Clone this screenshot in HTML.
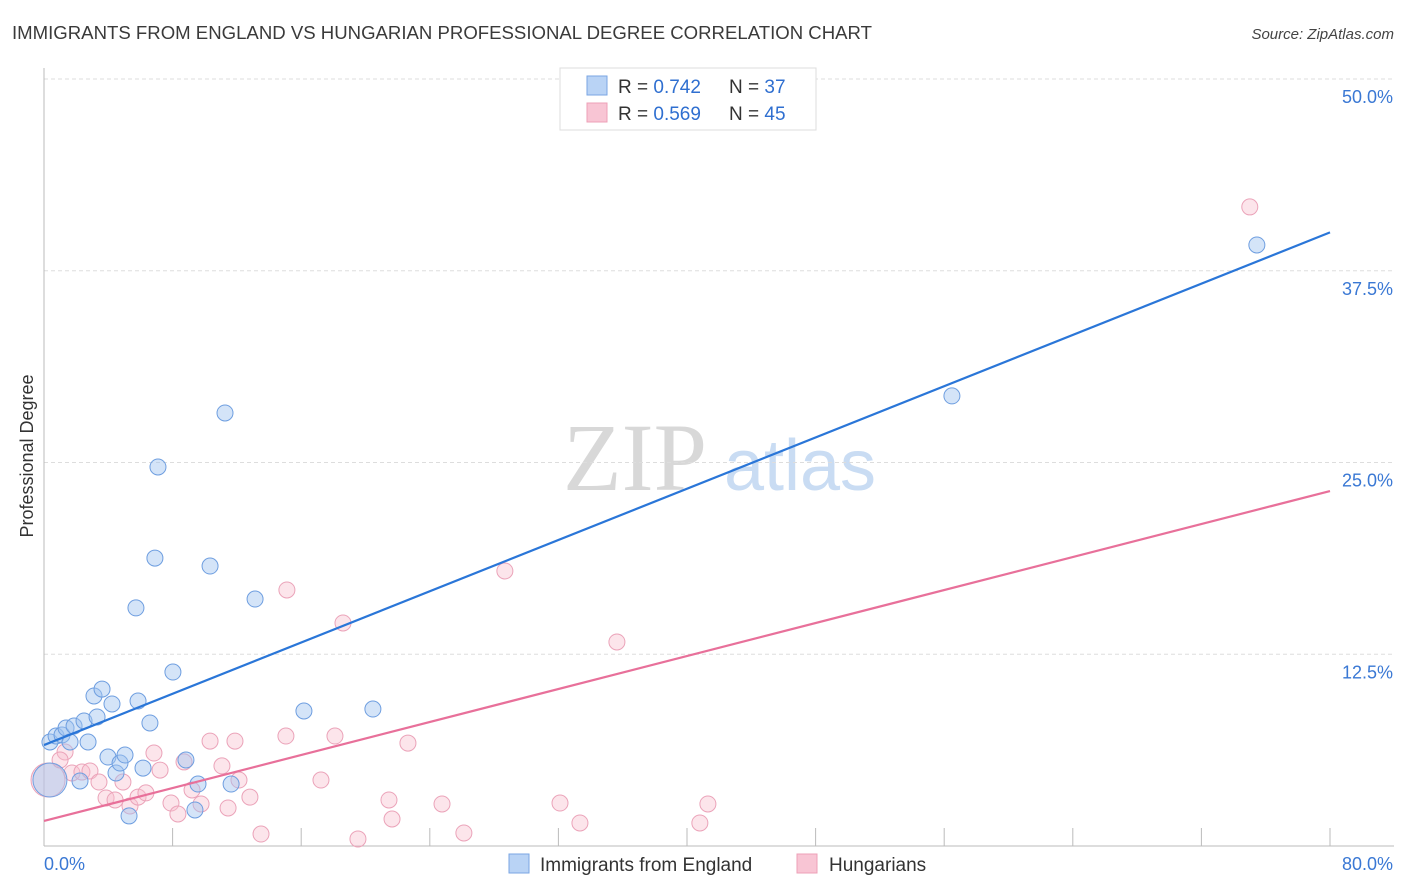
<!DOCTYPE html>
<html><head><meta charset="utf-8">
<style>
body{margin:0;background:#fff;font-family:"Liberation Sans",sans-serif;}
svg{display:block}
</style></head>
<body>
<svg id="chart" width="1406" height="892" viewBox="0 0 1406 892">
<text x="12" y="39" font-size="18" fill="#3a3a3a" textLength="860" lengthAdjust="spacingAndGlyphs">IMMIGRANTS FROM ENGLAND VS HUNGARIAN PROFESSIONAL DEGREE CORRELATION CHART</text>
<text x="1394" y="39" font-size="15" fill="#444" font-style="italic" text-anchor="end">Source: ZipAtlas.com</text>
<text x="0" y="0" transform="translate(33,456) rotate(-90)" font-size="18" fill="#333" text-anchor="middle">Professional Degree</text>
<g>
<text x="635" y="490" font-size="96" fill="#d8d8d8" font-family="Liberation Serif,serif" text-anchor="middle">ZIP</text>
<text x="800" y="490" font-size="72" fill="#c9dcf3" text-anchor="middle">atlas</text>
</g>
<g id="grid"></g>
<g id="axes"></g>
<g id="marks"></g>
<g>
<rect x="560" y="68" width="256" height="62" fill="#fff" stroke="#ddd"/>
<rect x="587" y="76" width="20" height="19" fill="#b9d3f5" stroke="#7aa6e3"/>
<rect x="587" y="103" width="20" height="19" fill="#f8c5d4" stroke="#eea0b7"/>
<text x="618" y="93" font-size="19" fill="#333">R = <tspan fill="#2f6fd0">0.742</tspan></text>
<text x="729" y="93" font-size="19" fill="#333">N = <tspan fill="#2f6fd0">37</tspan></text>
<text x="618" y="120" font-size="19" fill="#333">R = <tspan fill="#2f6fd0">0.569</tspan></text>
<text x="729" y="120" font-size="19" fill="#333">N = <tspan fill="#2f6fd0">45</tspan></text>
</g>
<g>
<rect x="509" y="854" width="20" height="19" fill="#b9d3f5" stroke="#7aa6e3"/>
<text x="540" y="871" font-size="19" fill="#333">Immigrants from England</text>
<rect x="797" y="854" width="20" height="19" fill="#f8c5d4" stroke="#eea0b7"/>
<text x="829" y="871" font-size="19" fill="#333">Hungarians</text>
</g>
</svg>
<script>
const blueX=[0.37,0.75,1.12,1.37,1.62,1.87,2.24,2.49,2.74,3.11,3.30,3.61,3.98,4.23,4.48,4.73,5.04,5.29,5.72,5.85,6.16,6.59,6.90,7.09,8.02,8.83,9.39,9.58,10.33,11.26,11.64,13.13,16.17,20.46,56.48,75.45,0.37];
const blueY=[6.78,7.17,7.24,7.69,6.78,7.82,4.24,8.15,6.78,9.78,8.41,10.23,5.80,9.26,4.76,5.41,5.93,1.96,15.52,9.45,5.08,8.02,18.77,24.71,11.34,5.61,2.35,4.04,18.25,28.23,4.04,16.10,8.80,8.93,29.34,39.18,4.30];
const blueBig=[36];
const pinkX=[0.25,1.31,1.74,2.36,2.86,3.42,3.86,4.42,4.91,5.35,5.85,6.34,6.84,7.22,7.90,8.33,8.71,9.21,9.77,10.33,11.07,11.45,11.88,12.13,12.81,13.50,15.05,15.11,17.23,18.10,18.60,19.53,21.46,21.65,22.64,24.76,26.12,28.67,32.10,33.34,35.64,40.80,41.30,75.01,1.00];
const pinkY=[4.30,6.13,4.76,4.82,4.89,4.17,3.13,3.00,4.17,2.61,3.19,3.46,6.06,4.95,2.80,2.09,5.48,3.65,2.74,6.84,5.22,2.48,6.84,4.30,3.19,0.78,7.17,16.69,4.30,7.17,14.54,0.46,3.00,1.76,6.71,2.74,0.85,17.93,2.80,1.50,13.30,1.50,2.74,41.66,5.61];
const pinkBig=[0];
const blueTrend=[6.58,40.0];
const pinkTrend=[1.63,23.14];
const yTicks=[12.5,25.0,37.5,50.0];
const yTickLabels=["12.5%","25.0%","37.5%","50.0%"];
const xTicks=[0,8,16,24,32,40,48,56,64,72,80];
const xEndLabels=["0.0%","80.0%"];

const NS="http://www.w3.org/2000/svg";
const X0=44,X1=1330,Y0=846,Y1=79;
const sx=v=>X0+(v/80)*(X1-X0);
const sy=v=>Y0-(v/50)*(Y0-Y1);
function mk(tag,attrs,parent){const e=document.createElementNS(NS,tag);for(const k in attrs)e.setAttribute(k,attrs[k]);parent.appendChild(e);return e;}
const grid=document.getElementById('grid'),axes=document.getElementById('axes'),marks=document.getElementById('marks');
yTicks.forEach((t,i)=>{
  const l=mk('line',{x1:X0,x2:1394,y1:sy(t),y2:sy(t),stroke:'#ddd','stroke-dasharray':'4,3'},grid);
  
  
  const tx=mk('text',{x:1393,y:sy(t)+24,'font-size':18,fill:'#3a78d4','text-anchor':'end'},grid);
  tx.textContent=yTickLabels[i];
  
  
});
const ax=mk('line',{x1:X0,x2:X0,y1:68,y2:Y0,stroke:'#bbb'},axes);


const bx=mk('line',{x1:X0,x2:1394,y1:Y0,y2:Y0,stroke:'#bbb'},axes);


xTicks.forEach(t=>{
  const l=mk('line',{x1:sx(t),x2:sx(t),y1:828,y2:Y0,stroke:'#bbb'},axes);
  
  
});
const xl0=mk('text',{x:44,y:870,'font-size':18,fill:'#3a78d4'},axes);xl0.textContent=xEndLabels[0];


const xl1=mk('text',{x:1393,y:870,'font-size':18,fill:'#3a78d4','text-anchor':'end'},axes);xl1.textContent=xEndLabels[1];



function dots(xs,ys,big,fill,stroke,name){
  xs.forEach((v,i)=>{
    const r=big.includes(i)?17:8;
    const c=mk('circle',{cx:sx(v),cy:sy(ys[i]),r:r,fill:fill,stroke:stroke,'stroke-width':1},marks);
    
    
  });
}
dots(pinkX,pinkY,pinkBig,'rgba(248,190,206,0.4)','#eba3b9','hungarians-point');
dots(blueX,blueY,blueBig,'rgba(160,195,240,0.45)','#6e9ee0','england-point');
const bl=mk('line',{x1:sx(0),y1:sy(blueTrend[0]),x2:sx(80),y2:sy(blueTrend[1]),stroke:'#2a76d8','stroke-width':2.2},marks);


const pl=mk('line',{x1:sx(0),y1:sy(pinkTrend[0]),x2:sx(80),y2:sy(pinkTrend[1]),stroke:'#e8709a','stroke-width':2.2},marks);


</script>
</body></html>
